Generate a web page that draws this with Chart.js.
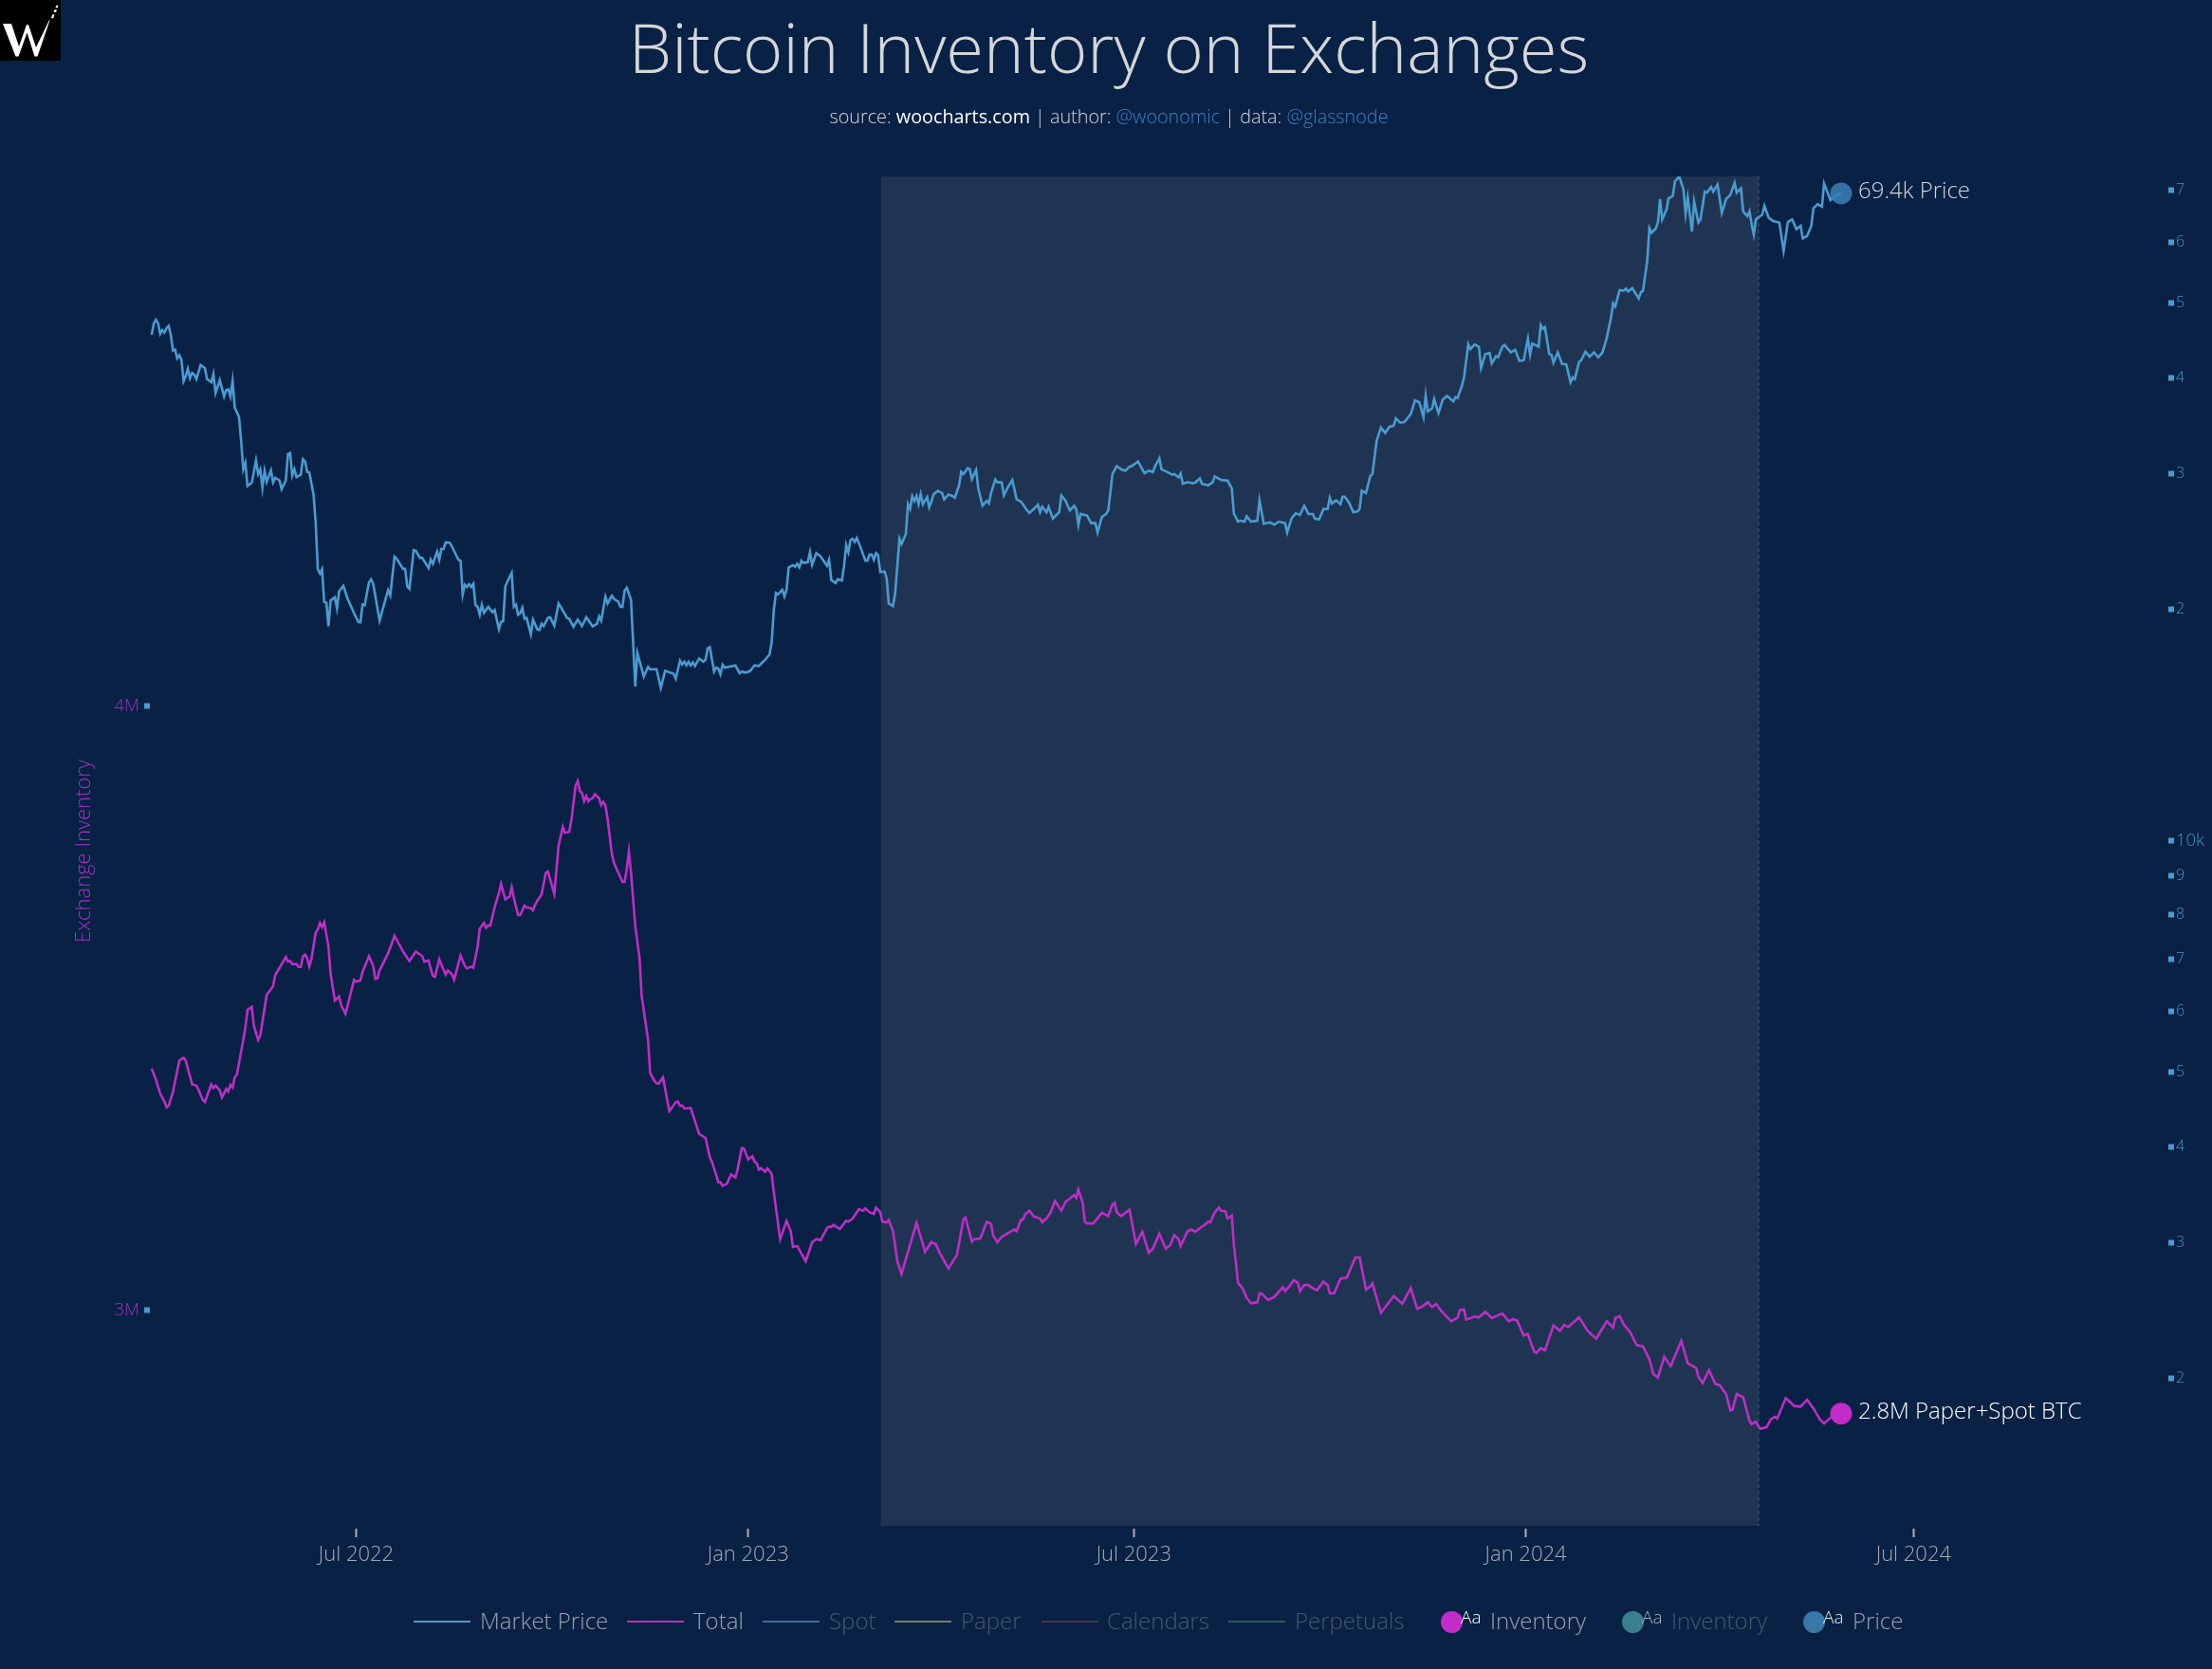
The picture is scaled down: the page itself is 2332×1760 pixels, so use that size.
<!DOCTYPE html>
<html><head><meta charset="utf-8">
<script src="https://cdn.jsdelivr.net/npm/chart.js@4"></script>
<style>
html,body{margin:0;padding:0;background:#092144;width:2332px;height:1760px;overflow:hidden;font-family:"Open Sans",sans-serif;font-weight:300}
canvas{position:absolute;left:0;top:0}
#logo{position:absolute;left:0;top:0}
#title{position:absolute;left:3px;width:2332px;text-align:center;top:-1px;font-size:72.300px;line-height:100px;color:#d4d6d9;}
#sub{position:absolute;left:3px;width:2332px;text-align:center;top:108px;font-size:19.800px;line-height:30px;color:#d4d6d9;white-space:pre}
#sub .w{color:#fff;font-weight:400}#sub .b{color:#3f7fc4}
.lg{position:absolute;white-space:nowrap}
.ln{height:2px;top:1709px;width:60px}
.tx{top:1692px;font-size:24px;line-height:34px}
.dot{width:23px;height:23px;border-radius:50%;top:1699px}
.aa{top:1691px;font-size:19px;line-height:28px}
</style></head><body>
<canvas id="c" width="2332" height="1760"></canvas>
<svg id="logo" width="64" height="64" viewBox="0 0 64 64"><rect width="64" height="64" fill="#000"/><path d="M3 25h9l8 24 8-23h2l8 24 14-29 .5 .5-13 38h-3l-8-25-9 25h-3z" fill="#fff"/><path d="M54 19l1.500-4 2 .5-1.500 4zM56.500 12.500l1-2.500 2.500.5-1 2.500zM58.500 8l1-2.500 2 .5-1 2.500z" fill="#fff"/></svg>
<div id="title">Bitcoin Inventory on Exchanges</div>
<div id="sub">source: <span class="w">woocharts.com</span> | author: <span class="b">@woonomic</span> | data: <span class="b">@glassnode</span></div>
<script>
// x values are days since 2022-01-01
const xTickDays=[181,365,546,730,912];
const xTickLabels=['Jul 2022','Jan 2023','Jul 2023','Jan 2024','Jul 2024'];
const inventoryTicks=[3000,4000];
const inventoryTickLabels=['3M','4M'];
const priceTicks=[2000,3000,4000,5000,6000,7000,8000,9000,10000,20000,30000,40000,50000,60000,70000];
const priceTickLabels=['2','3','4','5','6','7','8','9','10k','2','3','4','5','6','7'];
const halvingShade=[427.3,839.3];
const priceDays=[85,86,87,88,89,90,91,92,93,94,95,96,97,98,99,100,101,102,103,104,105,106,108,110,111,113,114,115,117,119,120,121,122,123,124,126,127,128,129,130,132,134,135,136,137,138,139,141,142,143,145,146,148,149,150,151,152,153,155,156,157,158,159,161,162,163,164,165,166,167,168,169,171,172,173,175,177,180,182,183,184,185,187,188,189,192,194,196,197,199,200,203,204,205,206,208,209,211,212,215,216,217,219,220,221,222,223,225,226,229,230,231,232,233,234,235,236,237,238,239,240,241,243,245,246,248,249,250,251,252,254,255,256,257,258,259,260,261,263,264,266,267,268,269,271,272,274,276,277,280,281,283,285,287,289,292,294,295,296,298,299,301,302,304,305,306,307,308,310,312,313,316,318,319,322,324,326,330,331,333,334,335,336,337,338,339,340,342,344,345,346,347,349,350,351,352,353,354,359,361,362,364,366,368,370,371,373,375,376,377,378,379,381,382,383,384,386,387,388,389,390,391,393,394,395,397,399,402,403,404,406,407,409,410,411,412,413,414,415,416,418,420,421,422,423,424,425,426,427,429,430,431,433,434,436,437,439,440,441,442,443,444,445,446,447,449,450,451,452,454,456,457,459,461,462,464,465,466,468,469,470,472,473,475,477,478,479,481,482,484,485,487,489,491,493,496,497,499,501,502,503,505,506,508,511,512,514,516,518,519,520,521,524,526,528,529,531,533,534,536,538,540,542,544,545,548,551,553,555,556,558,559,562,564,565,567,568,569,571,574,575,577,578,581,583,584,587,590,592,593,595,596,598,599,601,604,605,607,610,612,614,617,618,620,622,624,626,628,630,631,633,635,637,638,639,641,643,644,645,647,649,651,652,653,655,657,658,660,662,664,666,668,669,671,673,676,678,680,682,683,684,686,687,689,691,693,696,697,698,700,701,703,704,706,708,709,711,713,714,716,717,719,720,723,725,727,729,731,732,733,736,737,738,739,741,742,743,745,747,749,751,752,753,755,756,758,760,762,764,766,768,770,771,772,774,776,777,778,780,783,784,785,787,788,789,791,792,793,794,796,797,799,800,802,804,805,806,808,809,811,812,814,815,817,818,820,822,824,826,828,829,831,832,834,835,836,837,838,841,842,844,846,849,851,853,855,857,859,860,862,864,865,867,869,870,873,875,878];
const priceValues=[45440,47000,47530,47080,45570,46100,45750,46370,46680,45440,43350,43480,42350,42750,42150,39550,40170,41050,39910,40540,40360,39800,41530,41130,39800,39430,40430,38150,39680,37780,38520,38590,37780,39600,36540,35540,33090,30380,30970,28900,29180,31200,29960,30380,28750,30240,29260,30290,29210,29620,29400,28630,29400,31810,31900,29820,30380,29680,29880,31320,31110,30150,30100,28160,25870,22530,22240,22530,20420,20380,18990,20510,20710,20040,21090,21440,20610,19760,19240,19220,20280,20230,21650,21860,21570,19310,20230,21150,20830,23390,23250,22550,22550,21400,21240,23850,23800,23300,23300,22610,23180,22900,23750,23180,23940,23940,24420,24380,24100,23180,23110,20890,21500,21360,21550,21360,21570,20230,20130,19660,20260,19770,20130,19810,19940,18820,19240,19280,21400,21710,22280,20130,20260,19660,19750,20070,19420,19470,18540,19370,18820,18780,19130,19000,19470,19510,19030,20330,20130,19470,19420,18970,19370,19000,19510,18980,19130,19560,19310,20750,20330,20810,20610,20450,20130,20130,21130,21300,20570,15860,17530,16340,16810,16700,16700,15795,16620,16470,16230,17130,16940,17080,16890,17080,16890,17050,16860,17240,17080,17180,17780,17840,16580,16780,16730,16450,16920,16780,16890,16500,16580,16530,16620,16890,16860,16970,17180,17450,18050,19870,20985,20890,21180,20760,21180,22650,22800,22690,22900,22650,23110,22960,23010,23710,22820,23640,23410,22760,23180,21820,21610,21860,21780,22760,24210,23710,24560,24680,24450,24740,23940,23110,23110,23530,23530,23180,23640,23480,22340,22380,21930,20330,20170,20985,24680,24300,25020,27370,26980,28040,27640,28040,27370,28220,27370,27960,27110,27590,28170,28490,28300,27770,28170,28040,27900,28960,30150,29950,30470,30390,29510,30330,28700,27240,27640,27430,28300,29460,29225,29225,28110,28830,29430,27770,27590,26850,26660,26980,27320,26720,27160,26720,27160,26220,26720,28090,27640,26850,27240,26980,25740,26584,26460,25860,25860,25140,26340,26584,26850,29950,30680,30390,30250,30620,30680,31100,30040,30250,30150,30680,31400,30390,30100,29900,29950,29660,30010,29090,29225,29140,29225,29570,29090,28960,29225,29750,29430,29370,28700,26584,25980,26050,25980,26390,25980,26050,27690,25820,25910,25740,25980,25860,25140,26220,26630,26510,27240,26584,26584,26220,26150,26980,26980,27900,27430,27690,27370,27990,27990,27510,26720,26790,26980,28490,28300,29800,29950,33090,34430,33880,34520,34620,35390,34940,35000,35850,37350,37130,35500,37880,36130,36480,37500,35950,37420,37850,37240,37710,37600,39020,39990,44170,43540,44170,43830,41140,42900,43030,41720,42610,42490,43870,44080,43110,43450,42030,42110,44940,42810,44260,43870,46800,46290,46500,42900,42810,41800,43110,41640,41600,39410,39990,39800,41910,42110,43200,42570,43110,42490,43110,45020,47860,49960,49490,51950,51850,52210,51740,52260,50660,51590,51850,56716,62540,61670,62480,63600,68240,64210,66070,68360,68890,71950,73000,70250,65290,68545,61900,67740,63600,64210,69770,69570,70720,69770,71270,65450,68240,69090,71610,69570,70450,65750,64830,65760,63280,61390,64210,65140,66870,64520,63900,63600,58400,63720,64210,62351,62970,60660,61110,62970,66380,67180,66690,71470,68050,68890,69400];
const inventoryDays=[85,87,89,91,92,93,95,98,100,101,104,106,107,109,110,113,114,115,117,118,120,121,122,123,124,125,128,129,130,132,133,135,136,139,142,143,148,149,150,151,153,154,155,156,157,158,159,160,162,163,164,165,166,168,169,171,173,174,176,180,181,183,184,187,189,190,191,192,196,198,199,203,204,206,209,212,213,215,216,217,218,220,221,223,224,226,227,230,232,233,235,236,238,239,241,242,243,244,246,248,249,251,253,254,255,257,258,260,261,263,264,265,266,268,270,271,274,276,278,279,281,282,284,285,286,287,288,289,290,291,292,293,295,296,297,298,299,301,302,306,307,308,309,310,312,314,315,318,319,321,322,323,325,328,331,332,333,334,335,338,342,345,347,348,351,352,353,355,357,359,360,362,363,365,367,368,369,370,371,373,374,376,377,380,383,385,386,388,392,395,397,399,402,403,404,405,408,411,412,414,416,417,419,420,422,424,425,427,428,430,431,433,435,437,440,444,447,448,451,453,455,459,463,466,467,470,471,474,477,479,480,482,484,488,490,491,493,494,495,497,499,502,503,505,507,509,512,514,516,518,519,520,522,523,524,527,531,534,536,537,538,540,544,547,550,553,555,558,561,563,565,567,568,571,572,573,575,578,579,581,582,584,586,587,589,590,592,593,595,597,599,601,604,605,606,609,612,616,617,619,621,623,624,626,628,630,632,635,637,638,640,643,646,650,652,655,657,658,662,668,672,676,679,681,684,686,688,690,695,698,699,701,702,706,708,711,714,719,722,724,726,728,729,731,732,734,735,737,739,743,746,748,750,755,759,763,768,771,772,774,776,779,782,785,788,790,792,795,798,803,806,810,811,813,816,819,821,824,826,827,829,832,835,836,838,839,840,843,845,847,848,852,854,856,859,862,865,868,870,873,878];
const inventoryValues=[3400,3382,3359,3345.5,3336,3339,3361,3413.5,3418,3413.5,3374,3372,3365,3348,3345,3374,3368,3372,3364,3352,3366.5,3362,3373,3369,3386,3390,3447.5,3468,3497,3502,3471,3447.5,3455,3522,3536.4,3554.7,3584.5,3577,3578,3573,3573,3568,3568,3585,3588.6,3583,3568.8,3581,3625,3630.5,3641,3634,3642.5,3601.7,3557,3512.8,3519.6,3505,3490.8,3546.8,3544,3545.8,3560,3586,3570,3548.4,3549.4,3562.5,3591,3609.6,3620,3593.9,3588.6,3578,3593.9,3586,3577,3579,3565,3553.6,3552,3580.8,3571.9,3555.7,3562.5,3556,3546.8,3587,3570,3566,3569,3566.7,3601.7,3631.5,3641,3633,3637,3636.8,3667,3690.6,3706,3680,3685,3700,3682.8,3654,3654,3669.7,3667,3665.5,3661.9,3671,3677.6,3688,3723.6,3726,3689,3769,3800,3790,3791.6,3811,3868.4,3876,3859.5,3856,3842.3,3851,3842.3,3846,3847.5,3853.8,3847.5,3836,3841.2,3835.5,3813.5,3756,3740,3709,3709,3730,3759.7,3724.6,3635.7,3583.4,3520.7,3447.5,3392.5,3379.5,3375.8,3375.3,3385.7,3329.8,3344.4,3345.5,3338.7,3339,3334,3335,3292,3285.3,3253,3246,3212,3212,3206,3209.5,3225,3220,3233,3268.6,3268,3249.8,3255,3246,3243.5,3233,3235.6,3229.4,3235,3226,3196.4,3118,3147.8,3131,3105,3106.5,3081.4,3112.8,3118,3116.4,3136,3138.9,3137.8,3141.5,3134.7,3148.3,3146.8,3152,3162.4,3167.7,3165,3168.7,3162.4,3159.8,3170,3162.4,3146.8,3145.7,3149.4,3131,3081.4,3060.5,3097,3145,3110,3097,3112.8,3110,3094.5,3069.4,3091.9,3150.4,3153.6,3113.8,3118,3119,3146.8,3143,3123.2,3112.8,3121.7,3130,3133.7,3131,3149.4,3150.4,3158.8,3165,3155.7,3152,3145.7,3152,3162.5,3180.8,3165,3179.7,3185,3191,3186,3200,3178,3146.8,3144,3144,3161.4,3156,3175.5,3178,3162.5,3155.7,3166.6,3110,3130,3095.5,3102.3,3126.9,3102.3,3107.5,3124.3,3118,3106.5,3129.5,3132.7,3133.7,3130,3139,3140.5,3146.8,3145.7,3162.5,3170.3,3165,3164,3152,3157,3107.5,3044.8,3037,3021,3011.8,3013.4,3028,3028,3017.6,3022.3,3038.5,3031.7,3039.6,3050,3045.8,3031.7,3042,3042,3036.9,3033.3,3047.4,3042,3028,3028,3052.6,3054.2,3087.7,3087.7,3034.3,3039.6,3044.8,2996,3023.9,3010.8,3037,3003,3005.6,3013.4,3005.6,3010.8,3000.3,2982,2988.3,3000.3,3001.4,2984.7,2989.9,2988.3,2997.7,2987.3,2995,2982,2985.7,2983,2966.3,2958.5,2961,2950.7,2931.3,2929.7,2937.6,2934,2975.2,2966.3,2975.8,2972.6,2988.3,2966.3,2953.3,2982,2971.6,2987.3,2990.9,2976.8,2963.7,2942.8,2940.2,2919.3,2894.2,2889,2923.5,2907.8,2949.6,2912.5,2904.6,2890.5,2880,2901,2878.5,2876.4,2861.8,2834.6,2835.6,2861.8,2856.5,2817.3,2812,2815.7,2809.5,2804.2,2806.8,2820,2824,2821,2854.9,2848.7,2841.9,2840.8,2852.3,2838,2820,2813,2822.5,2829.3];
const endLabels=[{text:'2.8M Paper+Spot BTC',color:'#ffffff'},{text:'69.4k Price',color:'#d0d6dc'}];
const legendNames=['Market Price','Total','Spot','Paper','Calendars','Perpetuals','Inventory','Inventory','Price'];

const BG='#092144',PRICE='#4a9bd0',INV='#bd2ec6';
const pairs=(xs,ys)=>xs.map((x,i)=>({x,y:ys[i]}));
const lastOf=(xs,ys)=>[{x:xs[xs.length-1],y:ys[ys.length-1]}];
const FF='"Open Sans",sans-serif';

const shadePlugin={id:'shade',
 beforeDatasetsDraw(ch){const c=ch.ctx,a=ch.chartArea,x=ch.scales.x;
  const l=x.getPixelForValue(halvingShade[0]),r=x.getPixelForValue(halvingShade[1]);
  c.save();c.fillStyle='#1f3452';c.fillRect(l,a.top,r-l,a.bottom-a.top);
  c.strokeStyle='rgba(255,255,255,.22)';c.lineWidth=1;c.setLineDash([4,3]);
  c.beginPath();c.moveTo(r,a.top);c.lineTo(r,a.bottom);c.stroke();
  c.setLineDash([]);c.fillStyle=BG;c.fillRect(a.left,a.bottom,a.right-a.left,3);c.restore();},
 afterDatasetsDraw(ch){const c=ch.ctx;c.save();c.font='300 24px '+FF;c.textBaseline='middle';c.textAlign='left';
  [2,3].forEach((di,i)=>{const p=ch.getDatasetMeta(di).data[0];c.fillStyle=endLabels[i].color;c.fillText(endLabels[i].text,p.x+18,p.y-2);});
  c.restore();}};

new Chart(document.getElementById('c'),{type:'line',plugins:[shadePlugin],
 data:{datasets:[
  {label:'Market Price',data:pairs(priceDays,priceValues),yAxisID:'yP',borderColor:PRICE,borderWidth:2.600,pointRadius:0,tension:0,order:3},
  {label:'Total',data:pairs(inventoryDays,inventoryValues),yAxisID:'yI',borderColor:INV,borderWidth:2.600,pointRadius:0,tension:0,order:3},
  {label:'Inventory',data:lastOf(inventoryDays,inventoryValues),yAxisID:'yI',showLine:false,pointRadius:11.5,pointBackgroundColor:'#c22cc8',pointBorderWidth:0,order:1},
  {label:'Price',data:lastOf(priceDays,priceValues),yAxisID:'yP',showLine:false,pointRadius:11.5,pointBackgroundColor:'rgba(58,128,182,.85)',pointBorderWidth:0,order:1}
 ]},
 options:{responsive:false,devicePixelRatio:1,animation:false,layout:{padding:{top:186}},
  plugins:{legend:{display:false},tooltip:{enabled:false}},
  scales:{
   x:{type:'linear',min:84.17,max:1031.6,
    afterBuildTicks(s){s.ticks=xTickDays.map(value=>({value}));},
    afterFit(s){s.height=151;},
    grid:{drawOnChartArea:false,tickLength:12,tickWidth:2,tickColor:'#aab0b8'},border:{display:false},
    ticks:{autoSkip:false,maxRotation:0,padding:6,color:'#a4acb6',font:{family:FF,size:22,weight:'300'},callback:v=>xTickLabels[xTickDays.indexOf(v)]}},
   yI:{type:'linear',position:'left',min:2643.7,max:4876,
    afterBuildTicks(s){s.ticks=inventoryTicks.map(value=>({value}));},
    afterFit(s){s.width=158;},
    title:{display:true,text:'Exchange Inventory',color:'#a232c4',font:{family:FF,size:22,weight:'300'},padding:{top:76,bottom:0}},
    grid:{drawOnChartArea:false,tickLength:6,tickWidth:6,tickColor:PRICE},border:{display:false},
    ticks:{autoSkip:false,padding:5,color:'#9a32be',font:{family:FF,size:18.500,weight:'300'},callback:v=>inventoryTickLabels[inventoryTicks.indexOf(v)]}},
   yP:{type:'logarithmic',position:'right',min:1285,max:73030,
    afterBuildTicks(s){s.ticks=priceTicks.map(value=>({value}));},
    afterFit(s){s.width=46;},
    grid:{drawOnChartArea:false,tickLength:6,tickWidth:6,tickColor:PRICE},border:{display:false},
    ticks:{autoSkip:false,padding:2,color:'#4a90c6',font:c=>({family:FF,size:c.tick&&c.tick.value===10000?18.500:16,weight:'300'}),callback:v=>priceTickLabels[priceTicks.indexOf(v)]}}
  }}});

// legend
const lineColors=[PRICE,INV,'#2f7299','#7a7a5a','#50304f','#256058'];
const lineLeft=[436,661,804,943,1098,1295];
const textLeft=[506,731,874,1013,1167,1365,1571,1762,1953];
const textColors=['#9aa3ae','#9aa3ae','#47586e','#47586e','#47586e','#47586e','#9aa3ae','#47586e','#9aa3ae'];
const dotColors=['#c22cc8','#3a7f90','#3a77a8'],dotLeft=[1519,1710,1901],aaColors=['#fff','#a9b6c2','#e6ecf2'];
const add=(cls,left,style,text)=>{const d=document.createElement('div');d.className='lg '+cls;d.style.left=left+'px';Object.assign(d.style,style);if(text)d.textContent=text;document.body.appendChild(d);};
lineColors.forEach((col,i)=>add('ln',lineLeft[i],{background:col}));
legendNames.forEach((n,i)=>add('tx',textLeft[i],{color:textColors[i]},n));
dotColors.forEach((col,i)=>{add('dot',dotLeft[i],{background:col});add('aa',dotLeft[i]+21,{color:aaColors[i]},'Aa');});
</script></body></html>
